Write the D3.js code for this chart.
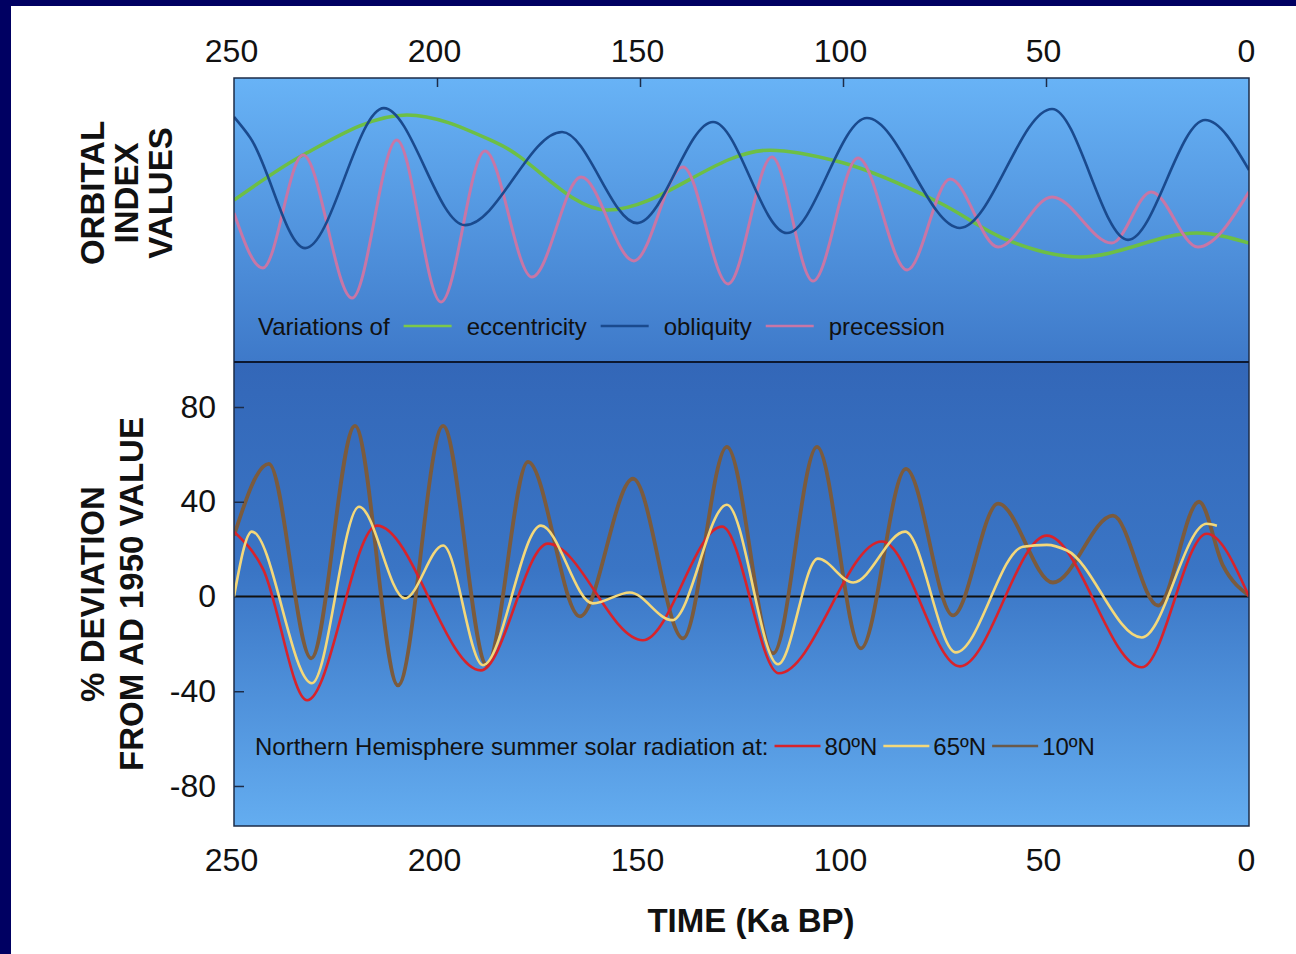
<!DOCTYPE html>
<html>
<head>
<meta charset="utf-8">
<script src="https://cdn.jsdelivr.net/npm/d3@7"></script>
<style>
  body { margin: 0; background: #fff; }
  svg { display: block; font-family: "Liberation Sans", Arial, sans-serif; }
  .tick-label { font-size: 32px; fill: #111; }
  .axis-title { font-size: 33px; font-weight: bold; fill: #111; }
  .legend-text { font-size: 24px; fill: #111; }
</style>
</head>
<body>
<div id="chart"></div>
<script>
// time ticks (Ka BP)
var timeTicks = [250, 200, 150, 100, 50, 0];
var deviationTicks = [80, 40, 0, -40, -80];

// orbital index values (arbitrary units, 0-100 of the panel height)
var eccentricity = [[250, 57], [233, 72.9], [207.4, 87], [185.2, 77.1], [158.1, 53.5], [118, 74.6],
    [100.7, 70.4], [76.1, 56], [59.6, 43], [41.6, 37], [12.8, 45.4], [0, 41.9]];
var obliquity = [[250, 86.3], [246, 79], [232.5, 40.1], [213.1, 89.4], [193.1, 48.2], [169.2, 81],
    [150.7, 48.9], [132, 84.5], [113.8, 45.4], [94.1, 85.9], [71.2, 47.2], [48.5, 89.1],
    [29.8, 43], [10.8, 85.2], [0, 67.6]];
var precession = [[250, 52.5], [242.9, 33.1], [233, 72.9], [220.9, 22.5], [209.9, 78.2], [199, 21.1],
    [188.2, 74.3], [176.6, 29.9], [164.5, 65.1], [151.5, 35.6], [139.4, 68.7], [128.3, 27.5],
    [117.5, 72.2], [107.4, 28.5], [96.3, 71.8], [84.2, 32.4], [73.6, 64.4], [61.8, 40.5],
    [48.5, 58.1], [33.8, 41.9], [24.1, 59.9], [12.6, 40.5], [0, 59.9]];

// NH summer solar radiation, % deviation from AD 1950
var rad80N = [[250, 27.4], [242.9, 11.8], [232, -43.8], [214.8, 29.9], [189.2, -31.2], [172.7, 22.3],
    [149.3, -18.5], [129.8, 29.5], [115.8, -32.4], [90.4, 23.2], [71.2, -29.5], [49.8, 25.7],
    [26.4, -29.9], [10.4, 26.5], [0, 0]];
var rad65N = [[250, 0], [245.6, 27.4], [230.8, -36.6], [219.2, 37.9], [207.9, -0.8], [198.5, 21.5],
    [188.7, -29], [174.4, 29.9], [161.6, -2.9], [152.5, 1.7], [142.1, -10], [128.6, 38.7],
    [116, -28.6], [106.2, 16], [97.5, 5.9], [84.7, 27.4], [72.2, -23.6], [55.7, 21],
    [49.8, 21.8], [44.8, 19.4], [26.4, -17.3], [10.4, 30.7], [7.9, 29.9]];
var rad10N = [[250, 25.7], [241.4, 56], [231, -26.1], [220.2, 72], [209.6, -37.5], [198.5, 72],
    [187.7, -29], [177.6, 56.8], [164.8, -8.4], [151.7, 49.7], [139.4, -17.7], [128.6, 63.2],
    [117.2, -24], [106.4, 63.2], [95.6, -21.9], [84.5, 53.9], [72.9, -8], [61.8, 39.2],
    [48.3, 5.9], [33.5, 34.1], [22.4, -3.8], [12.3, 40], [6.4, 13], [0, 0.4]];

var W = 1296, H = 954;
var plotLeft = 234, plotRight = 1249, plotTop = 78, plotMid = 362, plotBottom = 826;

var svg = d3.select("#chart").append("svg")
    .attr("width", W)
    .attr("height", H);

svg.append("rect").attr("width", W).attr("height", H).attr("fill", "#fff");
// navy frame
svg.append("rect").attr("x", 0).attr("y", 0).attr("width", W).attr("height", 6).attr("fill", "#000062");
svg.append("rect").attr("x", 0).attr("y", 0).attr("width", 11).attr("height", H).attr("fill", "#000062");

var defs = svg.append("defs");
var gTop = defs.append("linearGradient").attr("id", "bgTop")
    .attr("x1", 0).attr("y1", 0).attr("x2", 0).attr("y2", 1);
gTop.append("stop").attr("offset", 0).attr("stop-color", "#68b3f6");
gTop.append("stop").attr("offset", 1).attr("stop-color", "#3e79c9");
var gBot = defs.append("linearGradient").attr("id", "bgBot")
    .attr("x1", 0).attr("y1", 0).attr("x2", 0).attr("y2", 1);
gBot.append("stop").attr("offset", 0).attr("stop-color", "#3367b8");
gBot.append("stop").attr("offset", 0.45).attr("stop-color", "#3a75c5");
gBot.append("stop").attr("offset", 1).attr("stop-color", "#64adf0");

defs.append("clipPath").attr("id", "clipTop").append("rect")
    .attr("x", plotLeft).attr("y", plotTop).attr("width", plotRight - plotLeft).attr("height", plotMid - plotTop);
defs.append("clipPath").attr("id", "clipBot").append("rect")
    .attr("x", plotLeft).attr("y", plotMid).attr("width", plotRight - plotLeft).attr("height", plotBottom - plotMid);

svg.append("rect").attr("x", plotLeft).attr("y", plotTop).attr("width", plotRight - plotLeft).attr("height", plotMid - plotTop)
    .attr("fill", "url(#bgTop)");
svg.append("rect").attr("x", plotLeft).attr("y", plotMid).attr("width", plotRight - plotLeft).attr("height", plotBottom - plotMid)
    .attr("fill", "url(#bgBot)");

var x = d3.scaleLinear().domain([250, 0]).range([plotLeft, plotRight]);
var yTop = d3.scaleLinear().domain([0, 100]).range([plotMid, plotTop]);
var yBot = d3.scaleLinear().domain([-96.9, 99]).range([plotBottom, plotMid]);

// zero line
svg.append("line")
    .attr("x1", plotLeft).attr("x2", plotRight)
    .attr("y1", yBot(0)).attr("y2", yBot(0))
    .attr("stroke", "#111").attr("stroke-width", 2);

var lineTop = d3.line()
    .x(function(d) { return x(d[0]); })
    .y(function(d) { return yTop(d[1]); })
    .curve(d3.curveMonotoneX);
var lineBot = d3.line()
    .x(function(d) { return x(d[0]); })
    .y(function(d) { return yBot(d[1]); })
    .curve(d3.curveMonotoneX);

var topSeries = [
    { data: eccentricity, color: "#6dbf45", width: 3.5 },
    { data: precession, color: "#c876a6", width: 3 },
    { data: obliquity, color: "#1a4a8e", width: 2.6 }
];
var botSeries = [
    { data: rad10N, color: "#7b5b3d", width: 3.8 },
    { data: rad80N, color: "#d8232b", width: 2.6 },
    { data: rad65N, color: "#f4d87a", width: 2.6 }
];

svg.append("g").attr("clip-path", "url(#clipTop)")
    .selectAll("path").data(topSeries).enter().append("path")
    .attr("d", function(d) { return lineTop(d.data); })
    .attr("fill", "none")
    .attr("stroke", function(d) { return d.color; })
    .attr("stroke-width", function(d) { return d.width; });

svg.append("g").attr("clip-path", "url(#clipBot)")
    .selectAll("path").data(botSeries).enter().append("path")
    .attr("d", function(d) { return lineBot(d.data); })
    .attr("fill", "none")
    .attr("stroke", function(d) { return d.color; })
    .attr("stroke-width", function(d) { return d.width; });

// panel frame and separator
svg.append("rect").attr("x", plotLeft).attr("y", plotTop).attr("width", plotRight - plotLeft).attr("height", plotBottom - plotTop)
    .attr("fill", "none").attr("stroke", "#1d2c48").attr("stroke-width", 1.5);
svg.append("line").attr("x1", plotLeft).attr("x2", plotRight).attr("y1", plotMid).attr("y2", plotMid)
    .attr("stroke", "#0c1830").attr("stroke-width", 2);

// axes
var fmt = function(d) { return String(d); };
var xAxisTop = d3.axisTop(x).tickValues(timeTicks).tickFormat(fmt).tickSize(-9).tickPadding(16);
var xAxisBot = d3.axisBottom(x).tickValues(timeTicks).tickFormat(fmt).tickSize(0).tickPadding(22);
var yAxis = d3.axisLeft(yBot).tickValues(deviationTicks).tickFormat(fmt).tickSize(-10).tickPadding(18);

function styleAxis(g) {
    g.select(".domain").remove();
    g.selectAll(".tick line").attr("stroke", "#1d2c48").attr("stroke-width", 1.5);
    g.selectAll(".tick text").attr("class", "tick-label").attr("font-size", null).attr("font-family", null);
}

svg.append("g").attr("class", "x-axis-top").attr("transform", "translate(0," + plotTop + ")").call(xAxisTop).call(styleAxis);
svg.append("g").attr("class", "x-axis-bot").attr("transform", "translate(0," + plotBottom + ")").call(xAxisBot).call(styleAxis);
svg.append("g").attr("class", "y-axis").attr("transform", "translate(" + plotLeft + ",0)").call(yAxis).call(styleAxis);
svg.select(".x-axis-top").selectAll(".tick").filter(function(d) { return d === 250 || d === 0; })
    .select("line").remove();
svg.select(".y-axis").selectAll(".tick").filter(function(d) { return d === 0; })
    .select("line").remove();
// the printed labels sit a little left of the ticks
svg.selectAll(".x-axis-top .tick text, .x-axis-bot .tick text").attr("dx", -3);

// axis titles
function vTitle(lines, cx, cy, gap) {
    var t = svg.append("text").attr("class", "axis-title")
        .attr("text-anchor", "middle")
        .attr("transform", "translate(" + cx + "," + cy + ") rotate(-90)");
    lines.forEach(function(s, i) {
        t.append("tspan").attr("x", 0).attr("y", (i - (lines.length - 1) / 2) * gap).attr("dy", "0.36em").text(s);
    });
}
vTitle(["ORBITAL", "INDEX", "VALUES"], 126, 193, 34);
vTitle(["% DEVIATION", "FROM AD 1950 VALUE"], 112, 594, 39);

svg.append("text").attr("class", "axis-title")
    .attr("x", 751).attr("y", 920).attr("dy", "0.36em")
    .attr("text-anchor", "middle")
    .text("TIME (Ka BP)");

// legends
function legend(y, startX, label, items) {
    var g = svg.append("g");
    var t = g.append("text").attr("class", "legend-text").attr("x", startX).attr("y", y).attr("dy", "0.36em").text(label);
    var cx = startX + t.node().getComputedTextLength() + items.gapBefore;
    items.list.forEach(function(it) {
        g.append("line").attr("x1", cx).attr("x2", cx + items.lineLen)
            .attr("y1", y).attr("y2", y)
            .attr("stroke", it.color).attr("stroke-width", 2.5);
        cx += items.lineLen + items.gapAfter;
        var tt = g.append("text").attr("class", "legend-text").attr("x", cx).attr("y", y).attr("dy", "0.36em").text(it.name);
        cx += tt.node().getComputedTextLength() + items.gapBefore;
    });
}
legend(326, 258, "Variations of", {
    gapBefore: 14, gapAfter: 15, lineLen: 48,
    list: [
        { name: "eccentricity", color: "#7cc84a" },
        { name: "obliquity", color: "#1a4a8e" },
        { name: "precession", color: "#c876a6" }
    ]
});
legend(746, 255, "Northern Hemisphere summer solar radiation at:", {
    gapBefore: 6, gapAfter: 4, lineLen: 46,
    list: [
        { name: "80\u00baN", color: "#d8232b" },
        { name: "65\u00baN", color: "#f4d87a" },
        { name: "10\u00baN", color: "#6a5a4a" }
    ]
});
</script>
</body>
</html>
